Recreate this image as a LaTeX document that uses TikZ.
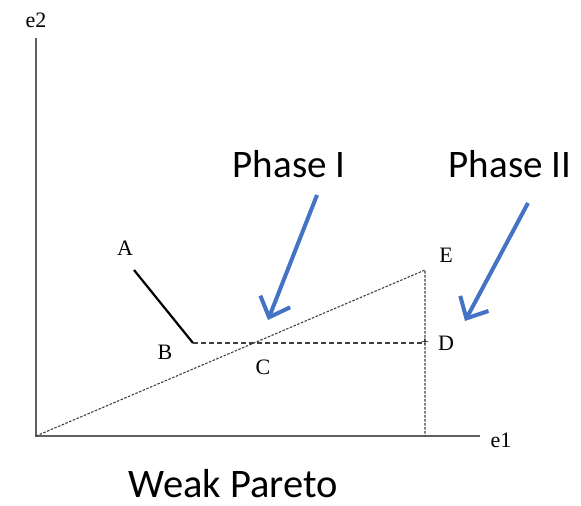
\documentclass[tikz,border=0pt]{standalone}
\usepackage{fontspec}
\setmainfont{Liberation Serif}
\newfontfamily\calib{Carlito}
\usetikzlibrary{arrows.meta}
\definecolor{arrowblue}{HTML}{4472C4}
\definecolor{axisgray}{HTML}{606060}
\begin{document}
\begin{tikzpicture}[x=1pt,y=-1pt,
  axis/.style={draw=axisgray,line width=1.6pt},
  lbl/.style={inner sep=0pt,font=\fontsize{22}{22}\selectfont},
  phase/.style={inner sep=0pt,font=\calib\fontsize{39}{39}\selectfont},
  dashline/.style={draw=black!75,dash pattern=on 5pt off 3pt,line width=1.2pt},
  dotline/.style={draw=black!75,dash pattern=on 2.5pt off 1.5pt,line width=1.1pt},
  bluearrow/.style={draw=arrowblue,line width=4pt,-{Straight Barb[length=17pt,width=32pt,line width=4pt]}}]
\useasboundingbox (0,0) rectangle (581,506);
\coordinate (O) at (36,436);
\coordinate (Ytop) at (36,38);
\coordinate (Xend) at (480,436);
\coordinate (Apt) at (134,270);
\coordinate (Bpt) at (193,343);
\coordinate (Ept) at (425,270);
\coordinate (Dpt) at (425,343);
\coordinate (Xfoot) at (425,436);
\coordinate (P1s) at (317,195);
\coordinate (P1e) at (268,320);
\coordinate (P2s) at (528,203);
\coordinate (P2e) at (465,321);
% axes
\draw[axis] (Ytop) -- (O) -- (Xend);
% lines
\draw[line width=2.2pt] (Apt) -- (Bpt);
\draw[dashline] (Bpt) -- (Dpt);
\draw[dotline] (O) -- (Ept) -- (Xfoot);
\node[inner sep=0pt,font=\fontsize{14}{14}\selectfont] (plus) at (Dpt) {+};
% labels
\node[lbl] (le2) at (36,20) {e2};
\node[lbl] (le1) at (501,440) {e1};
\node[lbl] (lA) at (125,248) {A};
\node[lbl] (lB) at (165,352) {B};
\node[lbl] (lC) at (263,367) {C};
\node[lbl] (lE) at (446,255) {E};
\node[lbl] (lD) at (446,343) {D};
% phases
\node[phase] (ph1) at (289,164) {Phase I};
\node[phase] (ph2) at (510,164) {Phase II};
\node[phase,font=\calib\fontsize{40.5}{40.5}\selectfont] (wp) at (233,484) {Weak Pareto};
\draw[bluearrow] (P1s) -- (P1e);
\draw[bluearrow] (P2s) -- (P2e);
\end{tikzpicture}
\end{document}
